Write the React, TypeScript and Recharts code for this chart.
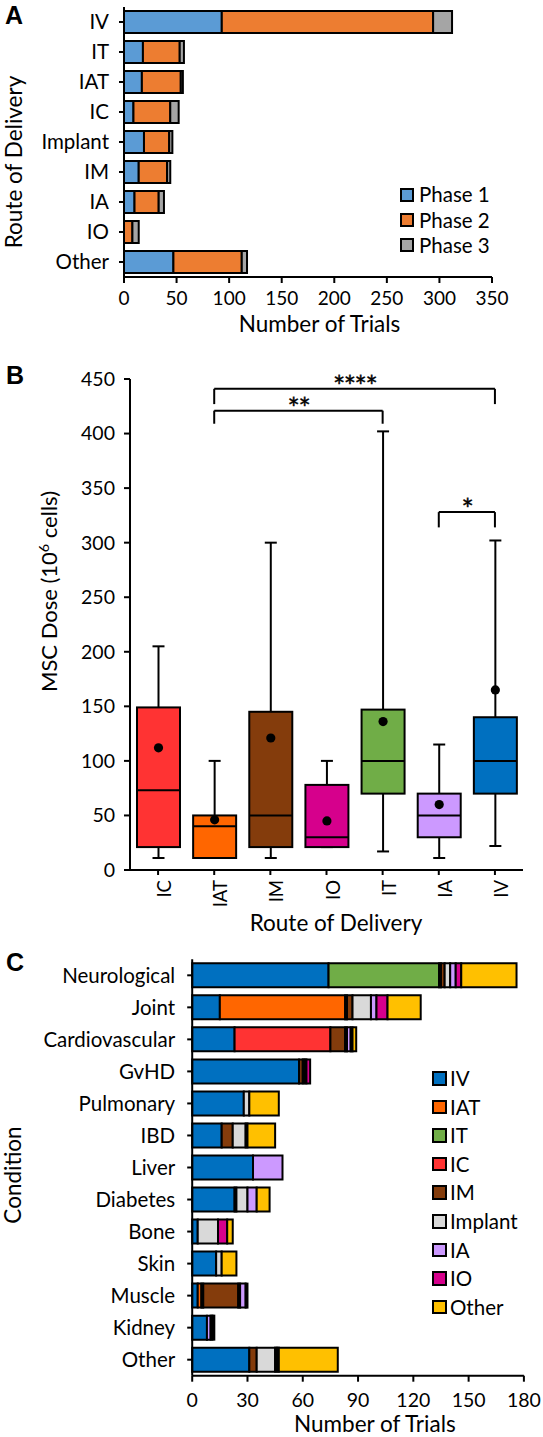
import React from 'react';
import { BarChart, Bar, XAxis, YAxis, ComposedChart, ReferenceLine, Label, Legend } from 'recharts';

const FONT = 'Lato, "Open Sans", sans-serif';
const BLACK = '#000000';

// ---------- Panel A : phases by route ----------
const routesA = ['IV', 'IT', 'IAT', 'IC', 'Implant', 'IM', 'IA', 'IO', 'Other'];
const phase1 = [93, 18, 17, 9, 19, 14, 10, 0, 47];
const phase2 = [201, 35, 37, 35, 24, 27, 23, 8, 65];
const phase3 = [18, 4, 2, 8, 3, 3, 5, 6, 5];
const ticksA = [0, 50, 100, 150, 200, 250, 300, 350];
const phaseNames = ['Phase 1', 'Phase 2', 'Phase 3'];
const phaseColors = ['#5B9BD5', '#ED7D31', '#A5A5A5'];

// ---------- Panel B : dose box plots ----------
const routesB = ['IC', 'IAT', 'IM', 'IO', 'IT', 'IA', 'IV'];
const doseMin = [11, 11, 11, 21, 17, 11, 22];
const doseQ1 = [21, 11, 21, 21, 70, 30, 70];
const doseMedian = [73, 40, 50, 30, 100, 50, 100];
const doseQ3 = [149, 50, 145, 78, 147, 70, 140];
const doseMax = [205, 100, 300, 100, 402, 115, 302];
const doseMean = [112, 46, 121, 45, 136, 60, 165];
const ticksB = [0, 50, 100, 150, 200, 250, 300, 350, 400, 450];
const boxColors = ['#FF3333', '#FF6600', '#843C0C', '#D6008C', '#70AD47', '#CC99FF', '#0070C0'];
const sigFrom = ['IAT', 'IAT', 'IA'];
const sigTo = ['IV', 'IT', 'IV'];
const sigTop = [441, 421, 328];
const sigBottom = [427, 409, 314];
const sigText = ['****', '**', '*'];

// ---------- Panel C : conditions by route ----------
const conditions = ['Neurological', 'Joint', 'Cardiovascular', 'GvHD', 'Pulmonary', 'IBD', 'Liver', 'Diabetes', 'Bone', 'Skin', 'Muscle', 'Kidney', 'Other'];
const cIV = [74, 15, 23, 58, 28, 16, 33, 23, 3, 13, 3, 8, 31];
const cIAT = [0, 68, 0, 0, 0, 0, 0, 0, 0, 0, 2, 0, 0];
const cIT = [60, 0, 0, 0, 0, 0, 0, 0, 0, 0, 1, 0, 0];
const cIC = [1, 1, 52, 0, 0, 0, 0, 0, 0, 0, 0, 0, 0];
const cIM = [2, 3, 8, 2, 0, 6, 0, 1, 0, 0, 19, 0, 4];
const cImplant = [3, 10, 1, 1, 3, 7, 0, 6, 11, 3, 1, 0, 10];
const cIA = [3, 3, 2, 1, 0, 0, 16, 5, 0, 0, 3, 2, 1];
const cIO = [3, 6, 1, 2, 0, 1, 0, 0, 5, 0, 1, 1, 1];
const cOther = [30, 18, 2, 0, 16, 15, 0, 7, 3, 8, 0, 1, 32];
const ticksC = [0, 30, 60, 90, 120, 150, 180];
const routeNamesC = ['IV', 'IAT', 'IT', 'IC', 'IM', 'Implant', 'IA', 'IO', 'Other'];
const routeColorsC = ['#0070C0', '#FF6600', '#70AD47', '#FF3333', '#843C0C', '#D9D9D9', '#CC99FF', '#D6008C', '#FFC000'];

// ---------- tables built from the arrays ----------
const dataA = routesA.map((r, i) => ({ route: r, p0: phase1[i], p1: phase2[i], p2: phase3[i] }));
const dataB = routesB.map((r, i) => ({
  route: r, min: doseMin[i], q1: doseQ1[i], median: doseMedian[i], q3: doseQ3[i], max: doseMax[i], mean: doseMean[i],
}));
const seriesC = [cIV, cIAT, cIT, cIC, cIM, cImplant, cIA, cIO, cOther];
const dataC = conditions.map((c, i) => {
  const row: any = { condition: c };
  seriesC.forEach((s, j) => { row['r' + j] = s[i]; });
  return row;
});

// ---------- helpers ----------
function HTitle({ viewBox, text, y, dx = 0, size }: any) {
  if (!viewBox) return null;
  const cx = viewBox.x + viewBox.width / 2 + dx;
  return (
    <text x={cx} y={y} textAnchor="middle" fontSize={size} fontFamily={FONT} fill={BLACK}>{text}</text>
  );
}

function VTitle({ viewBox, text, x, dy = 0, size }: any) {
  if (!viewBox) return null;
  const cy = viewBox.y + viewBox.height / 2 + dy;
  return (
    <text x={x} y={cy} transform={`rotate(-90 ${x} ${cy})`} textAnchor="middle" fontSize={size} fontFamily={FONT} fill={BLACK}>{text}</text>
  );
}

function BoxLegend({ payload, order, rowHeight, box, gap, fontSize }: any) {
  const items = [...(payload || [])].sort((a: any, b: any) => order.indexOf(a.value) - order.indexOf(b.value));
  return (
    <div style={{ fontFamily: FONT }}>
      {items.map((e: any) => (
        <div key={e.value} style={{ display: 'flex', alignItems: 'center', height: rowHeight }}>
          <span style={{ display: 'inline-block', width: box, height: box, boxSizing: 'border-box', border: '2px solid #000', background: e.color, marginRight: gap }} />
          <span style={{ fontSize, lineHeight: 1, color: BLACK, whiteSpace: 'nowrap' }}>{e.value}</span>
        </div>
      ))}
    </div>
  );
}

function BoxShape(props: any) {
  const { x, y, width, height, payload, index } = props;
  if (!payload || !height) return null;
  const { min, max, q1, median, q3, mean } = payload;
  const k = height / (max - min);
  const py = (v: number) => y + (max - v) * k;
  const cx = x + width / 2;
  const cap = 6;
  return (
    <g>
      <line x1={cx} x2={cx} y1={py(max)} y2={py(q3)} stroke={BLACK} strokeWidth={2} />
      <line x1={cx} x2={cx} y1={py(q1)} y2={py(min)} stroke={BLACK} strokeWidth={2} />
      <line x1={cx - cap} x2={cx + cap} y1={py(max)} y2={py(max)} stroke={BLACK} strokeWidth={2} />
      <line x1={cx - cap} x2={cx + cap} y1={py(min)} y2={py(min)} stroke={BLACK} strokeWidth={2} />
      <rect x={x} y={py(q3)} width={width} height={py(q1) - py(q3)} fill={boxColors[index]} stroke={BLACK} strokeWidth={2} />
      <line x1={x} x2={x + width} y1={py(median)} y2={py(median)} stroke={BLACK} strokeWidth={2} />
      <circle cx={cx} cy={py(mean)} r={4.6} fill={BLACK} />
    </g>
  );
}

function StarText({ viewBox, text }: any) {
  if (!viewBox) return null;
  const cx = viewBox.x + viewBox.width / 2;
  return (
    <text x={cx} y={viewBox.y + 8} textAnchor="middle" fontSize={29} fontFamily={FONT} fill={BLACK} stroke={BLACK} strokeWidth={0.4} letterSpacing={-1.5}>{text}</text>
  );
}

const axisStyle = { stroke: BLACK, strokeWidth: 2 };

function PanelA() {
  return (
    <BarChart width={543} height={340} data={dataA} layout="vertical" margin={{ top: 7, right: 51, bottom: 23, left: 24 }} barSize={22}>
      <XAxis type="number" domain={[0, 350]} ticks={ticksA} interval={0} height={40} tickSize={6} tickMargin={9}
        tick={{ fontSize: 19, fill: BLACK, fontFamily: FONT }} axisLine={axisStyle} tickLine={axisStyle}>
        <Label content={(p: any) => <HTitle viewBox={p.viewBox} text="Number of Trials" y={332} dx={11.5} size={22.5} />} />
      </XAxis>
      <YAxis type="category" dataKey="route" width={100} interval={0} tickSize={5} tickMargin={10}
        tick={{ fontSize: 20.5, fill: BLACK, fontFamily: FONT }} axisLine={axisStyle} tickLine={axisStyle}>
        <Label content={(p: any) => <VTitle viewBox={p.viewBox} text="Route of Delivery" x={21.5} dy={20} size={22.5} />} />
      </YAxis>
      {phaseNames.map((n, j) => (
        <Bar key={n} dataKey={'p' + j} name={n} stackId="a" fill={phaseColors[j]} stroke={BLACK} strokeWidth={2} isAnimationActive={false} />
      ))}
      <Legend layout="vertical" align="center" verticalAlign="middle" width={140}
        wrapperStyle={{ left: 400, top: 182, width: 140 }}
        content={(p: any) => <BoxLegend payload={p.payload} order={phaseNames} rowHeight={25.4} box={14} gap={5} fontSize={20.5} />} />
    </BarChart>
  );
}

function PanelB() {
  return (
    <ComposedChart width={543} height={600} data={dataB} margin={{ top: 39, right: 20, bottom: 30, left: 70 }} barSize={43}>
      <XAxis dataKey="route" type="category" height={40} interval={0} tickSize={5} tickMargin={5}
        tick={{ fontSize: 18.5, fill: BLACK, fontFamily: FONT, angle: -90, textAnchor: 'end', verticalAnchor: 'middle' } as any}
        axisLine={axisStyle} tickLine={axisStyle}>
        <Label content={(p: any) => <HTitle viewBox={p.viewBox} text="Route of Delivery" y={590.7} dx={9.5} size={22.5} />} />
      </XAxis>
      <YAxis type="number" domain={[0, 450]} ticks={ticksB} interval={0} width={60} tickSize={6} tickMargin={9}
        tick={{ fontSize: 19.5, fill: BLACK, fontFamily: FONT }} axisLine={axisStyle} tickLine={axisStyle}>
        <Label content={(p: any) => (
          <VTitle viewBox={p.viewBox} x={57} dy={-33} size={22}
            text={<>MSC Dose (10<tspan baselineShift="super" fontSize="65%">6</tspan> cells)</>} />
        )} />
      </YAxis>
      <Bar dataKey={(d: any) => [d.min, d.max]} shape={BoxShape} isAnimationActive={false} />
      {sigText.map((t, i) => (
        <ReferenceLine key={'t' + i} segment={[{ x: sigFrom[i], y: sigTop[i] }, { x: sigTo[i], y: sigTop[i] }]}
          stroke={BLACK} strokeWidth={2} ifOverflow="visible"
          label={(p: any) => <StarText viewBox={p.viewBox} text={t} />} />
      ))}
      {sigText.map((t, i) => (
        <ReferenceLine key={'l' + i} segment={[{ x: sigFrom[i], y: sigBottom[i] }, { x: sigFrom[i], y: sigTop[i] }]}
          stroke={BLACK} strokeWidth={2} ifOverflow="visible" />
      ))}
      {sigText.map((t, i) => (
        <ReferenceLine key={'r' + i} segment={[{ x: sigTo[i], y: sigBottom[i] }, { x: sigTo[i], y: sigTop[i] }]}
          stroke={BLACK} strokeWidth={2} ifOverflow="visible" />
      ))}
    </ComposedChart>
  );
}

function PanelC() {
  return (
    <BarChart width={543} height={497} data={dataC} layout="vertical" margin={{ top: 19.3, right: 19.1, bottom: 21.3, left: 72.2 }} barSize={24}>
      <XAxis type="number" domain={[0, 180]} ticks={ticksC} interval={0} height={40} tickSize={6} tickMargin={11}
        tick={{ fontSize: 19.5, fill: BLACK, fontFamily: FONT }} axisLine={axisStyle} tickLine={axisStyle}>
        <Label content={(p: any) => <HTitle viewBox={p.viewBox} text="Number of Trials" y={491.5} dx={16.8} size={22.5} />} />
      </XAxis>
      <YAxis type="category" dataKey="condition" width={120} interval={0} tickSize={5} tickMargin={12}
        tick={{ fontSize: 20.5, fill: BLACK, fontFamily: FONT }} axisLine={axisStyle} tickLine={axisStyle}>
        <Label content={(p: any) => <VTitle viewBox={p.viewBox} text="Condition" x={20.8} dy={7.5} size={22.5} />} />
      </YAxis>
      {routeNamesC.map((n, j) => (
        <Bar key={n} dataKey={'r' + j} name={n} stackId="c" fill={routeColorsC[j]} stroke={BLACK} strokeWidth={2} isAnimationActive={false} />
      ))}
      <Legend layout="vertical" align="center" verticalAlign="middle" width={120}
        wrapperStyle={{ left: 432, top: 124, width: 120 }}
        content={(p: any) => <BoxLegend payload={p.payload} order={routeNamesC} rowHeight={28.6} box={14.5} gap={3.5} fontSize={20.5} />} />
    </BarChart>
  );
}

export default function App() {
  return (
    <div style={{ position: 'absolute', left: 0, top: 0, width: 543, height: 1437, background: '#fff', fontFamily: FONT, overflow: 'hidden' }}>
      <div style={{ position: 'absolute', left: 0, top: 0 }}><PanelA /></div>
      <div style={{ position: 'absolute', left: 0, top: 340 }}><PanelB /></div>
      <div style={{ position: 'absolute', left: 0, top: 940 }}><PanelC /></div>
      <svg width={543} height={1437} style={{ position: 'absolute', left: 0, top: 0, pointerEvents: 'none' }}>
        <text x={5} y={24} fontFamily='"Liberation Sans", Arial, sans-serif' fontWeight="bold" fontSize={25} fill={BLACK}>A</text>
        <text x={6} y={384} fontFamily='"Liberation Sans", Arial, sans-serif' fontWeight="bold" fontSize={25} fill={BLACK}>B</text>
        <text x={6} y={971} fontFamily='"Liberation Sans", Arial, sans-serif' fontWeight="bold" fontSize={25} fill={BLACK}>C</text>
      </svg>
    </div>
  );
}
